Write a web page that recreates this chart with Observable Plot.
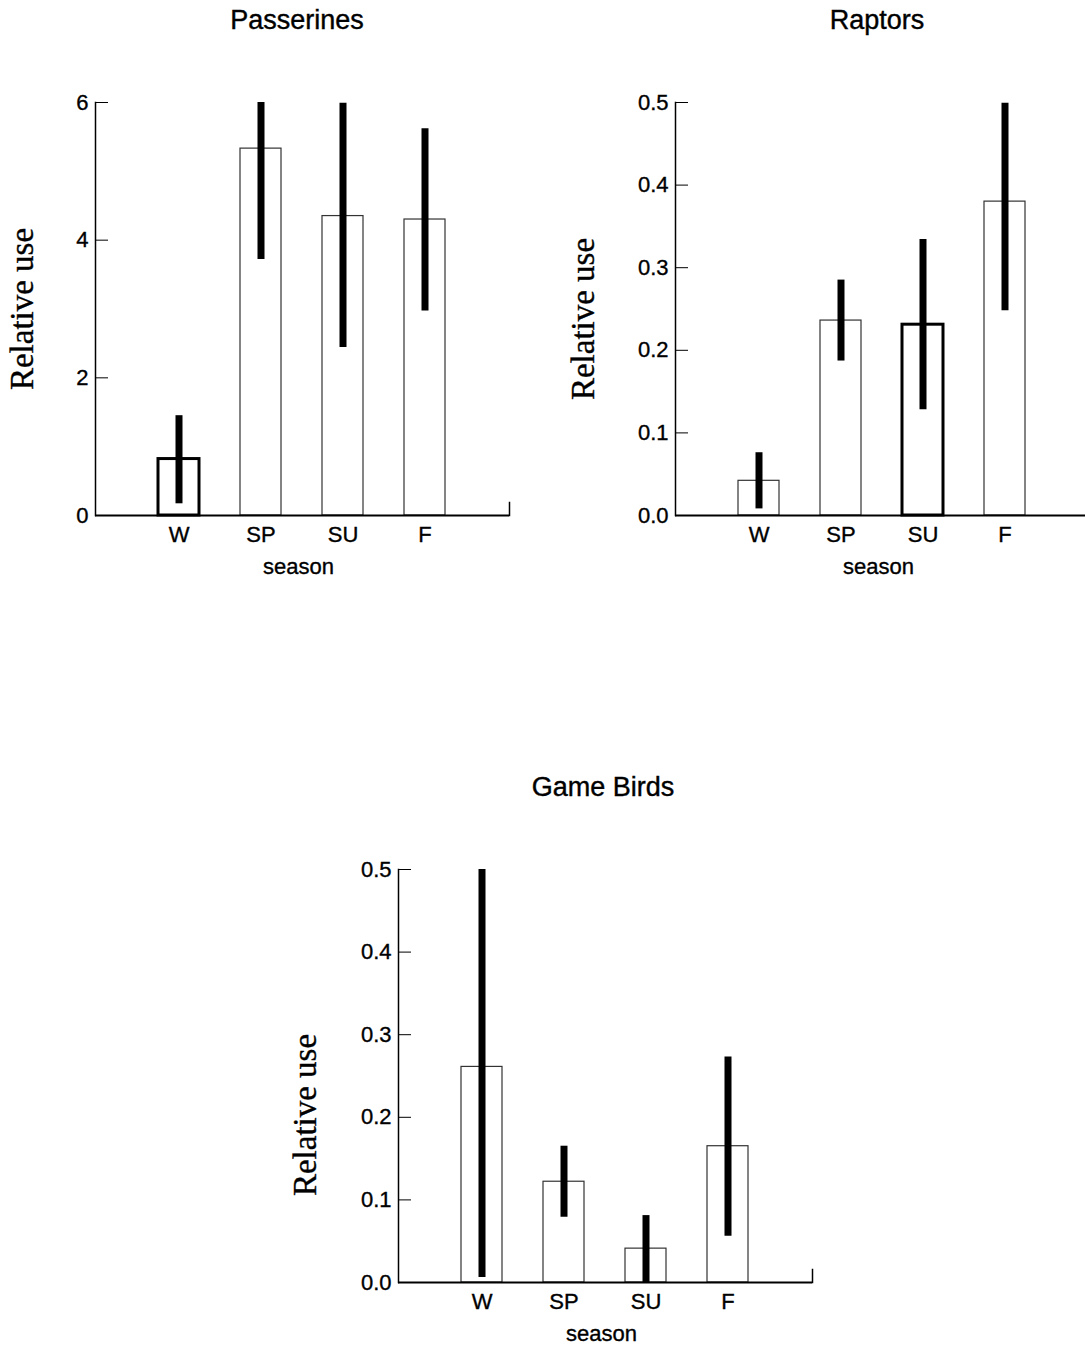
<!DOCTYPE html>
<html>
<head>
<meta charset="utf-8">
<script src="https://cdn.jsdelivr.net/npm/d3@7"></script>
<script src="https://cdn.jsdelivr.net/npm/@observablehq/plot@0.6"></script>
<style>
  html, body { margin: 0; padding: 0; background: #fff; }
  body { width: 1085px; height: 1346px; position: relative; overflow: hidden; font-family: "Liberation Sans", Arial, sans-serif; }
  .panel { position: absolute; }
  .panel svg { max-width: none !important; }
  .panel svg text { stroke: #000; stroke-width: 0.35px; }
  .title { position: absolute; font-size: 27px; color: #000; transform: translate(-50%, -50%); white-space: nowrap; -webkit-text-stroke: 0.4px #000; }
</style>
</head>
<body>
<script>
// ---- data ----
const seasons = ["W", "SP", "SU", "F"];

const passerinesUse  = [0.82, 5.33, 4.35, 4.30];
const passerinesLow  = [0.17, 3.72, 2.44, 2.97];
const passerinesHigh = [1.45, 6.00, 5.99, 5.62];
const passerinesEmph = [true, false, false, false];

const raptorsUse  = [0.042, 0.236, 0.231, 0.380];
const raptorsLow  = [0.008, 0.187, 0.128, 0.248];
const raptorsHigh = [0.076, 0.285, 0.334, 0.499];
const raptorsEmph = [false, false, true, false];

const gameUse  = [0.261, 0.122, 0.041, 0.165];
const gameLow  = [0.006, 0.079, 0.000, 0.056];
const gameHigh = [0.500, 0.165, 0.081, 0.273];
const gameEmph = [false, false, false, false];

const passerinesTicks = [0, 2, 4, 6];
const fractionTicks = [0, 0.1, 0.2, 0.3, 0.4, 0.5];

// ---- layout ----
const ML = 130, PW = 414, PH = 413, MT = 22, MB = 85, MR = 30;

function panel({title, use, low, high, emph, yMax, ticks, fmt, axisX, axisY, labelDx, labelDy, titleX, titleY}) {
  const data = seasons.map((s, i) => ({season: s, use: use[i], low: low[i], high: high[i], emph: emph[i]}));
  const W = ML + PW + MR, H = MT + PH + MB;
  const chart = Plot.plot({
    width: W,
    height: H,
    marginLeft: ML, marginRight: MR, marginTop: MT, marginBottom: MB,
    style: {fontFamily: "'Liberation Sans', Arial, sans-serif", fontSize: "22px", color: "#000", background: "transparent", overflow: "visible", maxWidth: "none"},
    x: {domain: seasons, paddingInner: 0.494, paddingOuter: 0.741, label: null},
    y: {domain: [0, yMax], label: null},
    marks: [
      Plot.barY(data.filter(d => !d.emph), {x: "season", y: "use", fill: "white", stroke: "#333", strokeWidth: 1.2}),
      Plot.barY(data.filter(d => d.emph), {x: "season", y: "use", fill: "white", stroke: "#000", strokeWidth: 3}),
      Plot.ruleY([0], {stroke: "#000", strokeWidth: 2}),
      Plot.frame({anchor: "left", stroke: "#000", strokeWidth: 1.5}),
      Plot.frame({anchor: "right", stroke: "#000", strokeWidth: 1.5, insetTop: PH - 13}),
      Plot.ruleX(data, {x: "season", y1: "low", y2: "high", stroke: "#000", strokeWidth: 7}),
      Plot.axisY({ticks, tickFormat: fmt, tickSize: -13, tickPadding: 20, label: null, fontSize: 22}),
      Plot.axisX({tickSize: 0, tickPadding: 11, label: null, fontSize: 22}),
      Plot.text(["Relative use"], {text: d => d, frameAnchor: "left", textAnchor: "middle", rotate: -90, dx: -labelDx, dy: labelDy,
        fontFamily: "'Liberation Serif', 'Times New Roman', serif", fontSize: 33, fill: "#000", stroke: "none"}),
      Plot.text(["season"], {text: d => d, frameAnchor: "bottom", dx: -4, dy: 58, fontSize: 22, fill: "#000"})
    ]
  });
  const wrap = document.createElement("div");
  wrap.className = "panel";
  wrap.style.left = (axisX - ML) + "px";
  wrap.style.top = (axisY - MT) + "px";
  wrap.style.width = W + "px";
  wrap.style.height = H + "px";
  wrap.appendChild(chart);
  document.body.appendChild(wrap);
  const t = document.createElement("div");
  t.className = "title";
  t.textContent = title;
  t.style.left = titleX + "px";
  t.style.top = titleY + "px";
  document.body.appendChild(t);
}

panel({title: "Passerines", use: passerinesUse, low: passerinesLow, high: passerinesHigh, emph: passerinesEmph,
  yMax: 6, ticks: passerinesTicks, fmt: d3.format("d"), axisX: 95, axisY: 102, labelDx: 73, labelDy: 0, titleX: 297, titleY: 20});
panel({title: "Raptors", use: raptorsUse, low: raptorsLow, high: raptorsHigh, emph: raptorsEmph,
  yMax: 0.5, ticks: fractionTicks, fmt: d3.format(".1f"), axisX: 675, axisY: 102, labelDx: 92, labelDy: 10, titleX: 877, titleY: 20});
panel({title: "Game Birds", use: gameUse, low: gameLow, high: gameHigh, emph: gameEmph,
  yMax: 0.5, ticks: fractionTicks, fmt: d3.format(".1f"), axisX: 398, axisY: 869, labelDx: 93, labelDy: 39, titleX: 603, titleY: 787});
</script>
</body>
</html>
